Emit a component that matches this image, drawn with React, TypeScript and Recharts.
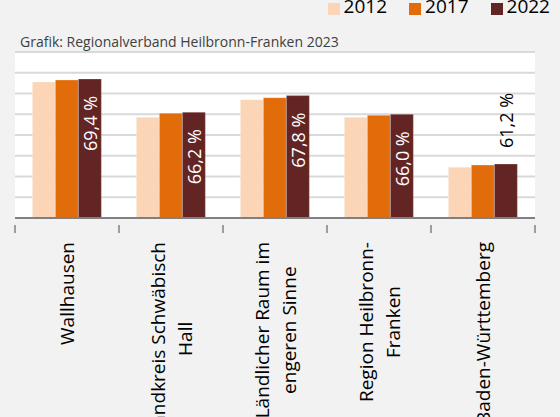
import { BarChart, Bar, XAxis, YAxis, CartesianGrid, Legend, LabelList } from 'recharts';

const CATEGORIES = [
  'Wallhausen',
  'Landkreis Schwäbisch\nHall',
  'Ländlicher Raum im\nengeren Sinne',
  'Region Heilbronn-\nFranken',
  'Baden-Württemberg',
];
const V2012 = [69.1, 65.7, 67.4, 65.7, 60.9];
const V2017 = [69.3, 66.1, 67.6, 65.9, 61.1];
const V2022 = [69.4, 66.2, 67.8, 66.0, 61.2];
const Y_TICKS = [56, 58, 60, 62, 64, 66, 68, 70, 72];

const SERIES = [
  { key: 'y2012', name: '2012', color: '#fbd5b5' },
  { key: 'y2017', name: '2017', color: '#e36c0a' },
  { key: 'y2022', name: '2022', color: '#632523' },
];

const data = CATEGORIES.map((name, i) => ({
  name,
  y2012: V2012[i],
  y2017: V2017[i],
  y2022: V2022[i],
}));

const W = 560;
const H = 417;
const MARGIN = { top: 52, right: 25, left: 15, bottom: 9 };
const FONT = '"Open Sans", sans-serif';
const TICK_FONT_SIZE = 19;

const fmt = (v: number) => v.toFixed(1).replace('.', ',') + ' %';

let measureCtx: CanvasRenderingContext2D | null = null;
const textWidth = (s: string) => {
  if (!measureCtx) measureCtx = document.createElement('canvas').getContext('2d');
  if (!measureCtx) return s.length * TICK_FONT_SIZE * 0.55;
  measureCtx.font = `${TICK_FONT_SIZE}px "Open Sans"`;
  return measureCtx.measureText(s).width;
};

// category labels are rotated, lines centred on each other, ticks on the category borders
const CategoryTick = (props: any) => {
  const { x, y, payload, index } = props;
  const band = (W - MARGIN.left - MARGIN.right) / CATEGORIES.length;
  const lines = String(payload.value).split('\n');
  const ty = y + 16;
  const maxLen = Math.max(...lines.map(textWidth));
  return (
    <g>
      <line x1={x - band / 2} x2={x - band / 2} y1={y - 1} y2={y + 7} stroke="#808080" strokeWidth={1.5} />
      {index === CATEGORIES.length - 1 && (
        <line x1={x + band / 2} x2={x + band / 2} y1={y - 1} y2={y + 7} stroke="#808080" strokeWidth={1.5} />
      )}
      <text transform={`rotate(-90, ${x}, ${ty})`} fontSize={TICK_FONT_SIZE} fontFamily={FONT} fill="#000">
        {lines.map((l, i) => (
          <tspan
            key={i}
            x={x - maxLen / 2}
            y={ty + (i - (lines.length - 1) / 2) * 27}
            textAnchor="middle"
            dominantBaseline="central"
          >
            {l}
          </tspan>
        ))}
      </text>
    </g>
  );
};

const ValueLabel = (props: any) => {
  const { x, y, width, height, value } = props;
  const cx = x + width / 2;
  const inside = height > 90;
  const ty = inside ? y + 17 : y - 16;
  return (
    <text
      transform={`rotate(-90, ${cx}, ${ty})`}
      x={cx}
      y={ty}
      textAnchor={inside ? 'end' : 'start'}
      dominantBaseline="central"
      fontSize={18}
      fontFamily={FONT}
      fill={inside ? '#fff' : '#000'}
    >
      {fmt(value)}
    </text>
  );
};

const renderLegend = () => (
  <div style={{ display: 'flex', justifyContent: 'flex-end', gap: 22, fontFamily: FONT }}>
    {SERIES.map((s) => (
      <div key={s.key} style={{ display: 'flex', alignItems: 'center' }}>
        <span
          style={{ display: 'inline-block', width: 12, height: 12, background: s.color, marginRight: 4, position: 'relative', top: 2 }}
        />
        <span style={{ fontSize: 19, lineHeight: '19px', color: '#000' }}>{s.name}</span>
      </div>
    ))}
  </div>
);

export default function App() {
  return (
    <div
      style={{
        position: 'absolute',
        left: 0,
        top: 0,
        width: W,
        height: H,
        background: '#f2f2f2',
        overflow: 'hidden',
        fontFamily: FONT,
      }}
    >
      <div style={{ position: 'absolute', left: 20, top: 35, fontSize: 14, lineHeight: '14px', color: '#404040' }}>
        Grafik: Regionalverband Heilbronn-Franken 2023
      </div>
      <BarChart width={W} height={H} data={data} margin={MARGIN} barCategoryGap="16.7%" barGap={0}>
        <CartesianGrid vertical={false} stroke="#d9d9d9" strokeWidth={2} fill="#fff" />
        <XAxis
          dataKey="name"
          height={190}
          interval={0}
          tickLine={false}
          axisLine={{ stroke: '#808080', strokeWidth: 2 }}
          tick={<CategoryTick />}
        />
        <YAxis hide domain={[56, 72]} ticks={Y_TICKS} interval={0} />
        <Legend
          verticalAlign="middle"
          align="center"
          wrapperStyle={{ top: -3, right: 10, left: 'auto' }}
          content={renderLegend}
        />
        {SERIES.map((s) => (
          <Bar
            key={s.key}
            dataKey={s.key}
            name={s.name}
            fill={s.color}
            stroke="#ffffff"
            strokeOpacity={0.25}
            strokeWidth={1}
            isAnimationActive={false}
          >
            {s.key === 'y2022' && <LabelList dataKey="y2022" content={<ValueLabel />} />}
          </Bar>
        ))}
      </BarChart>
    </div>
  );
}
